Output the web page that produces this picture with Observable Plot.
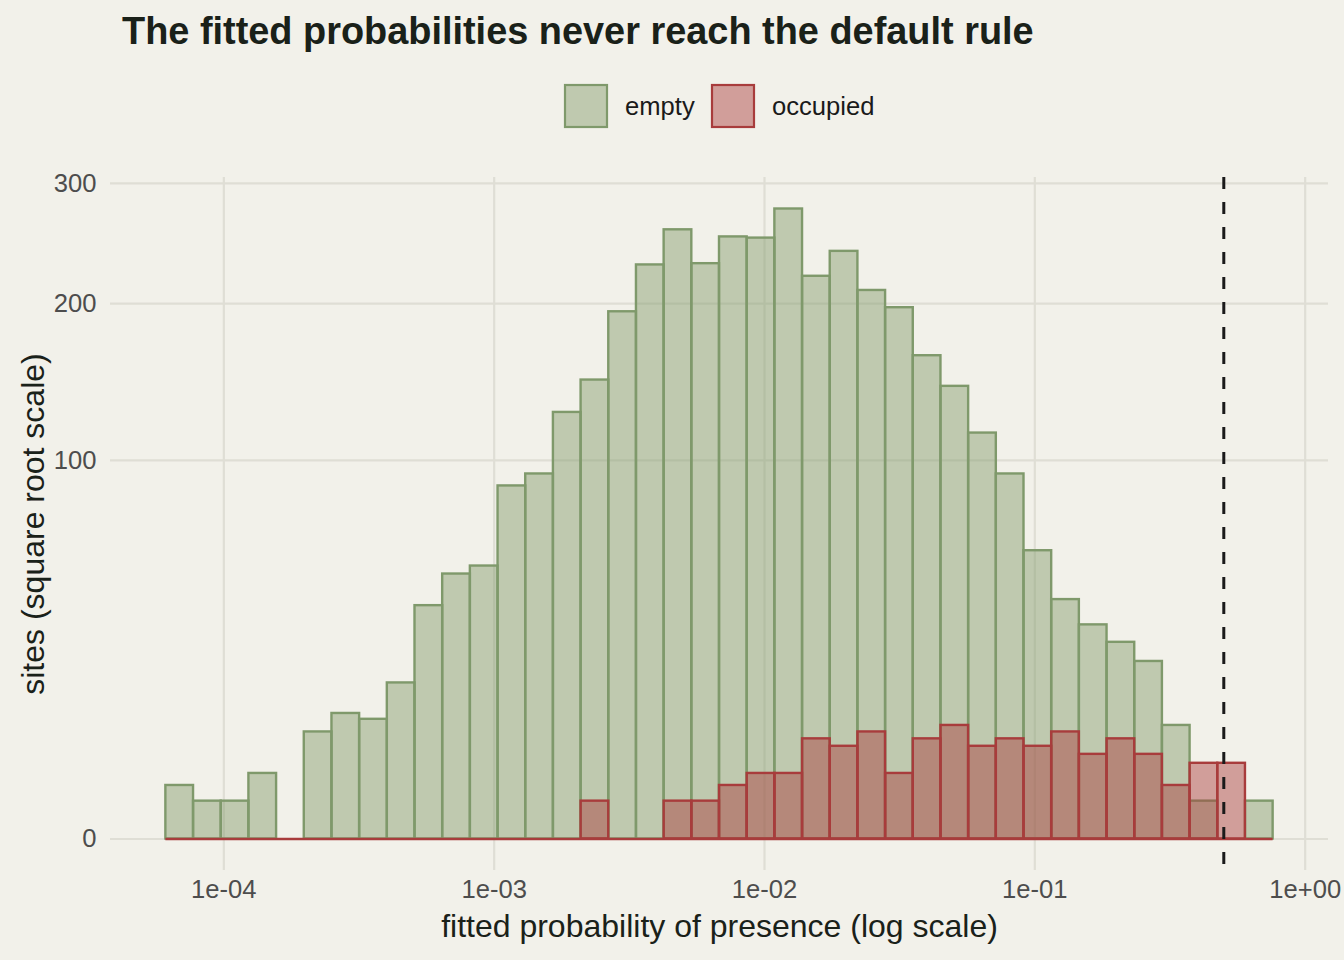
<!DOCTYPE html>
<html>
<head>
<meta charset="utf-8">
<script src="https://cdn.jsdelivr.net/npm/d3@7"></script>
<script src="https://cdn.jsdelivr.net/npm/@observablehq/plot@0.6"></script>
<style>
  html, body { margin: 0; padding: 0; background: #F2F1EA; }
  #wrap { width: 1344px; height: 960px; font-family: "Liberation Sans", Arial, Helvetica, sans-serif; }
  #head { display: block; }
  #chart svg { display: block; }
</style>
</head>
<body>
<div id="wrap">
  <svg id="head" width="1344" height="150"></svg>
  <div id="chart"></div>
</div>
<script>
// ---- data ----
const titleText = "The fitted probabilities never reach the default rule";
const xTitle = "fitted probability of presence (log scale)";
const yTitle = "sites (square root scale)";
const series = ["empty", "occupied"];
// 40 histogram bins on log10(p); first bin edge and bin width in log10 units
const binStartLog10 = -4.2145;
const binWidthLog10 = 0.1024;
const emptyCounts = [2, 1, 1, 3, 0, 8, 11, 10, 17, 38, 49, 52, 87, 93, 127, 147, 194, 230, 259, 231,
                     253, 252, 277, 221, 241, 210, 197, 163, 143, 115, 93, 58, 40, 32, 27, 22, 9, 1, 0, 1];
const occupiedCounts = [0, 0, 0, 0, 0, 0, 0, 0, 0, 0, 0, 0, 0, 0, 0, 1, 0, 0, 1, 1,
                        2, 3, 3, 7, 6, 8, 3, 7, 9, 6, 7, 6, 8, 5, 7, 5, 2, 4, 4, 0];
const defaultRule = 0.5;
const xTicks = [1e-4, 1e-3, 1e-2, 1e-1, 1];
const xTickLabels = ["1e-04", "1e-03", "1e-02", "1e-01", "1e+00"];
const yTicks = [0, 100, 200, 300];
const yTickLabels = ["0", "100", "200", "300"];

// ---- style ----
const bg = "#F2F1EA";
const fills = { empty: "#809A69", occupied: "#A83A3A" };
const strokes = { empty: "#7F996B", occupied: "#A83C3C" };
const fillAlpha = 0.45;
const gridColor = "#DFDED5";
const tickColor = "#4D4D4D";
const titleColor = "#1A2119";

// ---- build bins ----
function binRows(name, counts) {
  return counts.map((c, i) => ({
    series: name,
    x1: Math.pow(10, binStartLog10 + i * binWidthLog10),
    x2: Math.pow(10, binStartLog10 + (i + 1) * binWidthLog10),
    count: c
  }));
}
const emptyRows = binRows("empty", emptyCounts);
const occupiedRows = binRows("occupied", occupiedCounts);
const edgeMin = emptyRows[0].x1;
const edgeMax = emptyRows[emptyRows.length - 1].x2;
const logRange = Math.log10(edgeMax) - Math.log10(edgeMin);
const xDomain = [Math.pow(10, Math.log10(edgeMin) - 0.05 * logRange), Math.pow(10, Math.log10(edgeMax) + 0.05 * logRange)];
const maxCount = d3.max([...emptyCounts, ...occupiedCounts]);
const sTop = Math.sqrt(maxCount);
const sPad = 0.05 * sTop;
const yDomain = [-(sPad * sPad), (sTop + sPad) * (sTop + sPad)];

const xLabelMap = new Map(xTicks.map((t, i) => [t, xTickLabels[i]]));
const yLabelMap = new Map(yTicks.map((t, i) => [t, yTickLabels[i]]));

// ---- header: title + legend ----
const head = d3.select("#head");
head.append("text")
  .attr("x", 122).attr("y", 44)
  .attr("font-size", 37.9).attr("font-weight", "bold")
  .attr("fill", titleColor)
  .text(titleText);
const legendX = [565, 712];
series.forEach((s, i) => {
  const g = head.append("g");
  g.append("rect")
    .attr("x", legendX[i]).attr("y", 85).attr("width", 42).attr("height", 42)
    .attr("fill", fills[s]).attr("fill-opacity", fillAlpha)
    .attr("stroke", strokes[s]).attr("stroke-width", 2.2);
  g.append("text")
    .attr("x", legendX[i] + 60).attr("y", 115)
    .attr("font-size", 25.6).attr("fill", "#1a1a1a")
    .text(s);
});

// ---- chart ----
const chart = Plot.plot({
  width: 1344,
  height: 810,
  marginTop: 27,
  marginBottom: 90,
  marginLeft: 110,
  marginRight: 16,
  style: { background: bg, fontFamily: "Liberation Sans, Arial, sans-serif" },
  x: { type: "log", domain: xDomain },
  y: { type: "sqrt", domain: yDomain },
  marks: [
    Plot.gridX(xTicks, { stroke: gridColor, strokeOpacity: 1, strokeWidth: 2.2 }),
    Plot.gridY(yTicks, { stroke: gridColor, strokeOpacity: 1, strokeWidth: 2.2 }),
    Plot.rectY(emptyRows.filter(d => d.count > 0), {
      x1: "x1", x2: "x2", y1: 0, y2: "count",
      fill: fills.empty, fillOpacity: fillAlpha, stroke: strokes.empty, strokeWidth: 2.4
    }),
    Plot.rectY(occupiedRows.filter(d => d.count > 0), {
      x1: "x1", x2: "x2", y1: 0, y2: "count",
      fill: fills.occupied, fillOpacity: fillAlpha, stroke: strokes.occupied, strokeWidth: 2.4
    }),
    Plot.ruleY([{ y: 0, a: edgeMin, b: edgeMax }], {
      y: "y", x1: "a", x2: "b", stroke: strokes.occupied, strokeWidth: 2.4
    }),
    Plot.ruleX([defaultRule], { stroke: "#1a1a1a", strokeWidth: 3, strokeDasharray: "12,13" }),
    Plot.axisX(xTicks, {
      tickSize: 0, tickPadding: 9, fontSize: 25.6, fill: tickColor,
      tickFormat: d => xLabelMap.get(d), label: null
    }),
    Plot.axisY(yTicks, {
      tickSize: 0, tickPadding: 14, fontSize: 25.6, fill: tickColor,
      tickFormat: d => yLabelMap.get(d), label: null
    }),
    Plot.text([xTitle], {
      frameAnchor: "bottom", dy: 44, lineAnchor: "top", textAnchor: "middle",
      fontSize: 32, fill: titleColor
    }),
    Plot.text([yTitle], {
      frameAnchor: "left", dx: -89, rotate: -90, lineAnchor: "top", textAnchor: "middle",
      fontSize: 32, fill: titleColor
    })
  ]
});
document.getElementById("chart").appendChild(chart);
</script>
</body>
</html>
